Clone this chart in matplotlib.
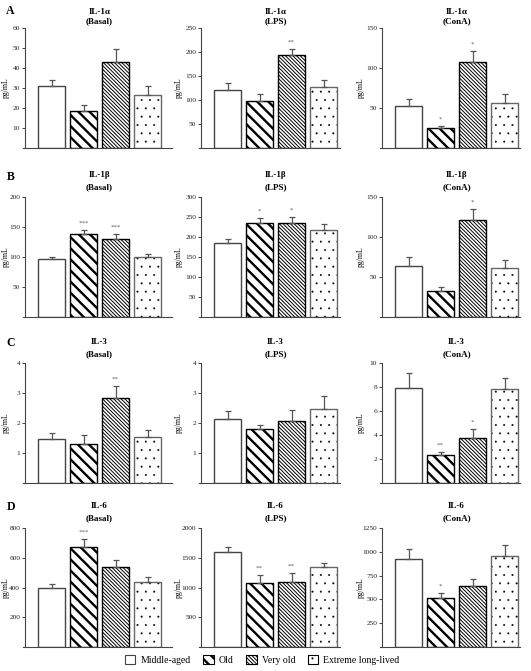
import matplotlib
matplotlib.use("Agg")
import matplotlib.pyplot as plt
import matplotlib.patches as mpatches
import numpy as np

plt.rcParams['font.family'] = ['Liberation Serif', 'DejaVu Serif']

GROUPS = ['Middle-aged', 'Old', 'Very old', 'Extreme long-lived']

# row A: IL-1a
il1a_basal = [30.8, 18.3, 43.0, 26.5]
il1a_basal_err = [3.4, 3.4, 6.5, 4.7]
il1a_basal_sig = ['', '', '', '']
il1a_lps = [121.5, 97, 194.5, 127]
il1a_lps_err = [14, 16, 12.5, 14.5]
il1a_lps_sig = ['', '', '**', '']
il1a_cona = [52, 25, 108, 56]
il1a_cona_err = [9, 2, 13.5, 11]
il1a_cona_sig = ['', '*', '*', '']

# row B: IL-1b
il1b_basal = [96.7, 139, 130.5, 99.4]
il1b_basal_err = [2.7, 6.5, 7.3, 6]
il1b_basal_sig = ['', '***', '***', '']
il1b_lps = [186, 236, 236, 217]
il1b_lps_err = [10, 11.5, 13, 16]
il1b_lps_sig = ['', '*', '*', '']
il1b_cona = [64, 33, 121.7, 61]
il1b_cona_err = [11.4, 4.5, 13.7, 10.7]
il1b_cona_sig = ['', '', '*', '']

# row C: IL-3
il3_basal = [1.47, 1.31, 2.83, 1.52]
il3_basal_err = [0.2, 0.3, 0.41, 0.26]
il3_basal_sig = ['', '', '**', '']
il3_lps = [2.13, 1.81, 2.07, 2.47]
il3_lps_err = [0.26, 0.14, 0.38, 0.42]
il3_lps_sig = ['', '', '', '']
il3_cona = [7.88, 2.37, 3.77, 7.8]
il3_cona_err = [1.25, 0.23, 0.7, 0.97]
il3_cona_sig = ['', '**', '*', '']

# row D: IL-6
il6_basal = [399, 671, 536, 439]
il6_basal_err = [24, 56, 49, 29]
il6_basal_sig = ['', '***', '', '']
il6_lps = [1600, 1082, 1090, 1341]
il6_lps_err = [73, 129, 149, 67]
il6_lps_sig = ['', '**', '**', '']
il6_cona = [920, 510, 645, 955]
il6_cona_err = [110, 60, 70, 115]
il6_cona_sig = ['', '*', '', '']

ROW_LETTERS = ['A', 'B', 'C', 'D']
CYTOKINES = ['IL-1α', 'IL-1β', 'IL-3', 'IL-6']
STIMULI = ['(Basal)', '(LPS)', '(ConA)']
Y_TICKS = [
    [[10, 20, 30, 40, 50, 60], [50, 100, 150, 200, 250], [50, 100, 150]],
    [[50, 100, 150, 200], [50, 100, 150, 200, 250, 300], [50, 100, 150]],
    [[1, 2, 3, 4], [1, 2, 3, 4], [2, 4, 6, 8, 10]],
    [[200, 400, 600, 800], [500, 1000, 1500, 2000], [250, 500, 750, 1000, 1250]],
]

PANELS = [
    [(il1a_basal, il1a_basal_err, il1a_basal_sig),
     (il1a_lps, il1a_lps_err, il1a_lps_sig),
     (il1a_cona, il1a_cona_err, il1a_cona_sig)],
    [(il1b_basal, il1b_basal_err, il1b_basal_sig),
     (il1b_lps, il1b_lps_err, il1b_lps_sig),
     (il1b_cona, il1b_cona_err, il1b_cona_sig)],
    [(il3_basal, il3_basal_err, il3_basal_sig),
     (il3_lps, il3_lps_err, il3_lps_sig),
     (il3_cona, il3_cona_err, il3_cona_sig)],
    [(il6_basal, il6_basal_err, il6_basal_sig),
     (il6_lps, il6_lps_err, il6_lps_sig),
     (il6_cona, il6_cona_err, il6_cona_sig)],
]

# styling for each group: hatch, edge colour, hatch line width
STYLES = [
    dict(hatch='', edge='#444444', hlw=1.0),
    dict(hatch='\\\\\\', edge='black', hlw=1.7),
    dict(hatch='\\' * 9, edge='black', hlw=0.7),
    dict(hatch='..', edge='#666666', hlw=0.2),
]

W, H = 531, 671
COL_AXIS_PX = [25, 201, 382]
COL_END_PX = [172, 340, 520]
ROW_TOP_PX = [28, 197, 363, 528]
ROW_BASE_PX = [148, 317, 483, 647]
TITLE_PX = [(12, 21), (175, 187), (342, 354), (506, 518)]
LETTER_PX = [(10, 11), (11, 177), (11, 343), (11, 507)]
YLABEL_X_PX = [6, 179, 361]
PX_PER_UNIT = 32.0
GAP = 0.83
BAR_W = 0.84


def add_bar(ax, x, h, style):
    bar = ax.bar(x, h, width=BAR_W, color='white', edgecolor='black',
                 linewidth=0, hatch=style['hatch'], zorder=2)[0]
    if hasattr(bar, 'set_hatch_linewidth'):
        bar.set_hatch_linewidth(style['hlw'])
    ax.bar(x, h, width=BAR_W, fill=False, edgecolor=style['edge'],
           linewidth=1.0, zorder=2.5)


fig = plt.figure(figsize=(W / 100, H / 100), dpi=100)

x = np.arange(len(GROUPS))
for r in range(4):
    top, base = ROW_TOP_PX[r], ROW_BASE_PX[r]
    for c in range(3):
        means, errs, sig = PANELS[r][c]
        left_px = COL_AXIS_PX[c] - 2
        width_px = COL_END_PX[c] - left_px
        ax = fig.add_axes([left_px / W, 1 - base / H, width_px / W, (base - top) / H])
        x0 = -GAP - 2 / PX_PER_UNIT
        ax.set_xlim(x0, x0 + width_px / PX_PER_UNIT)
        ticks = Y_TICKS[r][c]
        ax.set_ylim(0, ticks[-1])
        ax.set_yticks(ticks)
        ax.set_xticks([])

        for i in range(len(GROUPS)):
            add_bar(ax, x[i], means[i], STYLES[i])
        ax.errorbar(x, means, yerr=[np.zeros(len(means)), errs], fmt='none',
                    ecolor='#555555', elinewidth=0.9, capsize=2.2, capthick=0.9,
                    zorder=3)
        for i, s in enumerate(sig):
            if s:
                ax.annotate(s, (x[i], means[i] + errs[i]), xytext=(0, 5),
                            textcoords='offset points', ha='center', va='center',
                            fontsize=5, color='#666666')

        for side in ['top', 'right']:
            ax.spines[side].set_visible(False)
        ax.spines['left'].set_position(('data', -GAP))
        for side in ['left', 'bottom']:
            ax.spines[side].set_color('#444444')
            ax.spines[side].set_linewidth(0.8)
        ax.tick_params(axis='y', length=2, width=0.6, pad=1.5, labelsize=5.3,
                       colors='#222222')

        # titles centred over the bars
        tx = (COL_AXIS_PX[c] + GAP * PX_PER_UNIT + 1.5 * PX_PER_UNIT) / W
        fig.text(tx, 1 - TITLE_PX[r][0] / H, CYTOKINES[r], ha='center',
                 va='center', fontsize=6.5, fontweight='bold')
        fig.text(tx, 1 - TITLE_PX[r][1] / H, STIMULI[c], ha='center',
                 va='center', fontsize=6.5, fontweight='bold')
        fig.text(YLABEL_X_PX[c] / W, 1 - (top + base) / 2 / H, 'pg/mL',
                 rotation=90, ha='center', va='center', fontsize=5.5)

    fig.text(LETTER_PX[r][0] / W, 1 - LETTER_PX[r][1] / H, ROW_LETTERS[r],
             ha='center', va='center', fontsize=8.5, fontweight='bold')

handles = []
for g, st in zip(GROUPS, STYLES):
    p = mpatches.Patch(facecolor='white', edgecolor='black' if st['hatch'] else st['edge'],
                       hatch=st['hatch'], linewidth=0.8, label=g)
    if hasattr(p, 'set_hatch_linewidth'):
        p.set_hatch_linewidth(st['hlw'])
    handles.append(p)
leg = fig.legend(handles=handles, loc='center', bbox_to_anchor=(262 / W, 1 - 660 / H),
                 ncol=4, frameon=False, fontsize=7, handlelength=1.1, handleheight=1.1,
                 columnspacing=1.3, handletextpad=0.5)
for lp, st in zip(leg.get_patches(), STYLES):
    if hasattr(lp, 'set_hatch_linewidth'):
        lp.set_hatch_linewidth(st['hlw'])

fig.savefig('out.png', dpi=100)
